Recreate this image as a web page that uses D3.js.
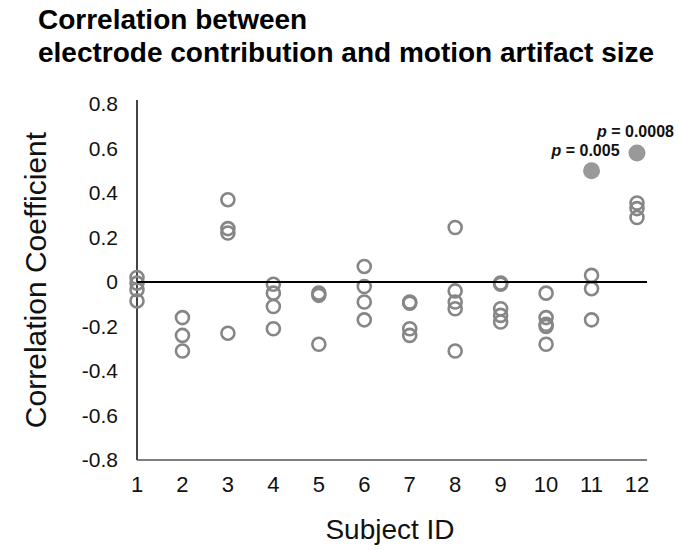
<!DOCTYPE html>
<html>
<head>
<meta charset="utf-8">
<script src="https://cdn.jsdelivr.net/npm/d3@7/dist/d3.min.js"></script>
<style>
  body { margin: 0; background: #fff; }
  text { font-family: "Liberation Sans", Arial, Helvetica, sans-serif; }
</style>
</head>
<body>
<div id="chart"></div>
<script>
// subject ids on the x axis
const subjects = [1, 2, 3, 4, 5, 6, 7, 8, 9, 10, 11, 12];
const yTicks = [0.8, 0.6, 0.4, 0.2, 0, -0.2, -0.4, -0.6, -0.8];

// open circles: non-significant electrode correlations per subject
const subjectOf = [1, 1, 1, 1, 2, 2, 2, 3, 3, 3, 3, 4, 4, 4, 4, 5, 5, 5, 6, 6, 6, 6, 7, 7, 7, 7, 8, 8, 8, 8, 8, 9, 9, 9, 9, 9, 10, 10, 10, 10, 10, 11, 11, 11, 12, 12, 12];
const corrValues = [0.02, -0.005, -0.035, -0.085, -0.16, -0.24, -0.31, 0.37, 0.24, 0.22, -0.23,
  -0.01, -0.05, -0.11, -0.21, -0.05, -0.06, -0.28, 0.07, -0.02, -0.09, -0.17,
  -0.09, -0.095, -0.21, -0.24, 0.245, -0.04, -0.09, -0.12, -0.31,
  -0.005, -0.01, -0.12, -0.15, -0.18, -0.05, -0.16, -0.19, -0.2, -0.28,
  0.03, -0.03, -0.17, 0.355, 0.33, 0.29];

// filled circles: significant correlations
const sigSubjects = [11, 12];
const sigValues = [0.5, 0.58];
const sigLabels = ["0.005", "0.0008"];

(function () {
  const W = 679, H = 550;
  const svg = d3.select("#chart").append("svg").attr("width", W).attr("height", H);

  const x = d3.scaleLinear().domain([1, 12]).range([137, 637]);
  const y = d3.scaleLinear().domain([-0.8, 0.8]).range([460, 104]);

  // title
  svg.append("text").attr("x", 38).attr("y", 29)
    .attr("font-size", 28).attr("font-weight", "bold").text("Correlation between");
  svg.append("text").attr("x", 38).attr("y", 62)
    .attr("font-size", 28).attr("font-weight", "bold")
    .text("electrode contribution and motion artifact size");

  // axes lines
  svg.append("line").attr("x1", 137).attr("x2", 647).attr("y1", y(-0.8)).attr("y2", y(-0.8))
    .attr("stroke", "#555").attr("stroke-width", 1.5);
  svg.append("line").attr("x1", 137).attr("x2", 137).attr("y1", 100).attr("y2", y(-0.8))
    .attr("stroke", "#444").attr("stroke-width", 2);

  // y tick labels (plain hyphen minus like the original)
  svg.selectAll(".ytick").data(yTicks).enter().append("text")
    .attr("x", 118).attr("y", d => y(d) + 7)
    .attr("text-anchor", "end").attr("font-size", 21).attr("fill", "#111")
    .text(d => String(d));

  // x tick labels
  svg.selectAll(".xtick").data(subjects).enter().append("text")
    .attr("x", d => x(d)).attr("y", 492)
    .attr("text-anchor", "middle").attr("font-size", 22).attr("fill", "#111")
    .text(d => d);

  // axis titles
  svg.append("text").attr("x", 390).attr("y", 539).attr("text-anchor", "middle")
    .attr("font-size", 28).attr("fill", "#111").text("Subject ID");
  svg.append("text").attr("transform", "translate(46,280) rotate(-90)")
    .attr("text-anchor", "middle").attr("font-size", 30).attr("fill", "#111")
    .text("Correlation Coefficient");

  // open circles
  svg.selectAll(".pt").data(corrValues).enter().append("circle")
    .attr("cx", (d, i) => x(subjectOf[i])).attr("cy", d => y(d)).attr("r", 6.5)
    .attr("fill", "none").attr("stroke", "#868686").attr("stroke-width", 2.6);

  // zero line on top
  svg.append("line").attr("x1", 137).attr("x2", 647).attr("y1", y(0)).attr("y2", y(0))
    .attr("stroke", "#000").attr("stroke-width", 1.8);

  // significant points
  svg.selectAll(".sig").data(sigValues).enter().append("circle")
    .attr("cx", (d, i) => x(sigSubjects[i])).attr("cy", d => y(d)).attr("r", 8.5)
    .attr("fill", "#999");

  // p-value labels: 11 -> end-anchored left of circle 12, 12 -> above it
  const lab = svg.selectAll(".plab").data(sigValues).enter().append("text")
    .attr("x", (d, i) => i === 0 ? x(sigSubjects[i]) + 28 : x(sigSubjects[i]) - 40)
    .attr("y", (d, i) => i === 0 ? y(d) - 15 : y(d) - 16)
    .attr("text-anchor", (d, i) => i === 0 ? "end" : "start")
    .attr("font-size", 16).attr("font-weight", "bold").attr("fill", "#111");
  lab.append("tspan").attr("font-style", "italic").text("p");
  lab.append("tspan").text((d, i) => " = " + sigLabels[i]);
})();
</script>
</body>
</html>
